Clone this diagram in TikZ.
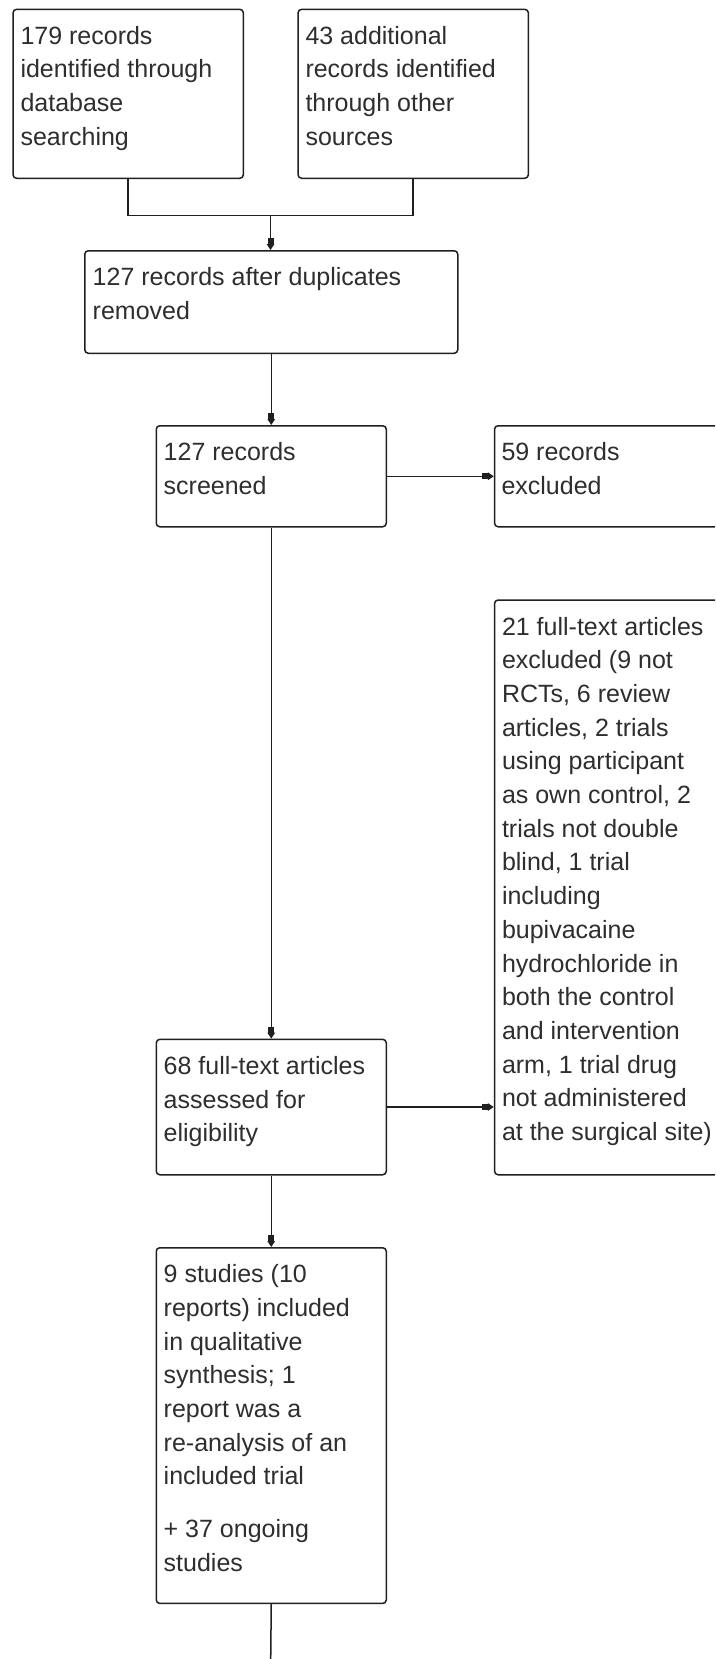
\documentclass[tikz,border=0pt]{standalone}
\usepackage{fontspec}
\setmainfont{Liberation Sans}
\usetikzlibrary{arrows.meta}
\definecolor{linec}{HTML}{202020}
\definecolor{textc}{HTML}{2E2E2E}
\begin{document}
\begin{tikzpicture}[x=1pt,y=-1pt,
  box/.style={draw=linec, line width=1.5pt, rectangle, rounded corners=3.5pt,
    inner sep=0pt, anchor=north west},
  txt/.style={anchor=north west, inner sep=0pt, align=left, text=textc,
    font=\fontsize{25}{33.7}\selectfont},
  conn/.style={draw=linec, line width=1.5pt},
  arr/.style={conn, -{Rectangle[length=6pt,width=6pt,sep=0pt]Triangle[length=6pt,width=7.5pt]}}]
\useasboundingbox (0,0) rectangle (715,1659);
\clip (0,0) rectangle (715,1659);
\fill[white] (0,0) rectangle (715,1659);
% boxes
\node[box, minimum width=230.3pt, minimum height=168.9pt] (b1) at (12.3,8.6) {};
\node[box, minimum width=230.3pt, minimum height=168.9pt] (b2) at (297.3,8.6) {};
\node[box, minimum width=373pt, minimum height=102.5pt] (b3) at (84,250) {};
\node[box, minimum width=230pt, minimum height=101pt] (b4) at (155.5,425) {};
\node[box, minimum width=260pt, minimum height=101pt] (b5) at (493.8,425) {};
\node[box, minimum width=260pt, minimum height=574.7pt] (b6) at (493.8,599.3) {};
\node[box, minimum width=230pt, minimum height=135.4pt] (b7) at (155.5,1038.6) {};
\node[box, minimum width=230pt, minimum height=355.7pt] (b8) at (155.5,1247) {};
% texts
\node[txt] (t1) at ([shift={(8,11.9)}]b1.north west) {\strut 179 records\\identified through\\database\\searching};
\node[txt] (t2) at ([shift={(8,11.9)}]b2.north west) {\strut 43 additional\\records identified\\through other\\sources};
\node[txt] (t3) at ([shift={(8.5,11.9)}]b3.north west) {\strut 127 records after duplicates\\removed};
\node[txt] (t4) at ([shift={(8,11.9)}]b4.north west) {\strut 127 records\\screened};
\node[txt] (t5) at ([shift={(7.5,11.9)}]b5.north west) {\strut 59 records\\excluded};
\node[txt] (t6) at ([shift={(8,11.9)}]b6.north west) {\strut 21 full-text articles\\excluded (9 not\\RCTs, 6 review\\articles, 2 trials\\using participant\\as own control, 2\\trials not double\\blind, 1 trial\\including\\bupivacaine\\hydrochloride in\\both the control\\and intervention\\arm, 1 trial drug\\not administered\\at the surgical site)};
\node[txt] (t7) at ([shift={(8,11.9)}]b7.north west) {\strut 68 full-text articles\\assessed for\\eligibility};
\node[txt] (t8) at ([shift={(8,11.9)}]b8.north west) {\strut 9 studies (10\\reports) included\\in qualitative\\synthesis; 1\\report was a\\re-analysis of an\\included trial\\[19pt]+ 37 ongoing\\studies};
% connectors
\coordinate (j) at (270.5,215.4);
\coordinate (bend) at (270.5,1680);
\draw[conn] (b1.south) |- (j);
\draw[conn] (b2.south) |- (j);
\draw[arr] (j) -- (j |- b3.north);
\draw[arr] (b3.south) -- (b4.north);
\draw[arr] (b4.east) -- (b4.east -| b5.west);
\draw[arr] (b4.south) -- (b7.north);
\draw[arr] (b7.east) -- (b7.east -| b6.west);
\draw[arr] (b7.south) -- (b8.north);
\draw[conn] (b8.south) -- (bend);
\end{tikzpicture}
\end{document}
